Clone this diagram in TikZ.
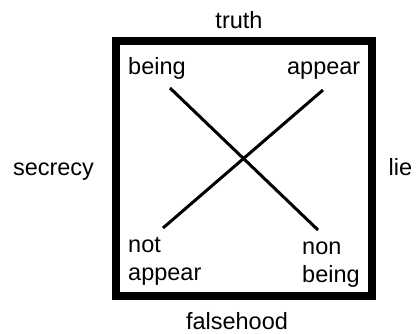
\documentclass[tikz,border=0pt]{standalone}
\usepackage{fontspec}
\setmainfont{Liberation Sans}
\usepackage{tikz}
\usetikzlibrary{positioning}
\definecolor{inkblack}{HTML}{000000}
\definecolor{pagebg}{HTML}{FFFFFF}
\tikzset{
  framebox/.style={
    draw=inkblack, line width=8pt, fill=pagebg,
    inner sep=0pt,
  },
  cornerlabel/.style={
    font=\fontsize{23.5}{28}\selectfont, text=inkblack,
    inner sep=0pt, align=left,
  },
  sidelabel/.style={
    font=\fontsize{23.5}{28}\selectfont, text=inkblack,
    inner sep=0pt,
  },
  crossline/.style={
    draw=inkblack, line width=3pt,
  },
}

\begin{document}
\begin{tikzpicture}[x=1pt,y=-1pt]

  \useasboundingbox[fill=pagebg] (0,0) rectangle (416,333);

  % ─── Square frame ─────────────────────────────────────────────────────
  \node[framebox, minimum width=256pt, minimum height=255pt]
    (frame) at (244,168.5) {};

  % ─── Outer labels ─────────────────────────────────────────────────────
  \node[sidelabel, anchor=base] (truth) at (239,28) {truth};
  \node[sidelabel, anchor=base] (falsehood) at (237,329.5) {falsehood};
  \node[sidelabel, anchor=base] (secrecy) at (53.5,175) {secrecy};
  \node[sidelabel, anchor=base] (lie) at (400.5,175) {lie};

  % ─── Corner labels ────────────────────────────────────────────────────
  \node[cornerlabel, anchor=base west] (being) at (128,74) {being};
  \node[cornerlabel, anchor=base east] (appear) at (360.5,74) {appear};
  % multi-line nodes: base sits on the last line
  \node[cornerlabel, anchor=base west] (notappear) at (128,280) {not\\appear};
  \node[cornerlabel, anchor=base west] (nonbeing) at (302,282) {non\\being};

  % ─── Crossing lines ───────────────────────────────────────────────────
  \coordinate (beingend) at (170,88);
  \coordinate (nonbeingend) at (318,230);
  \coordinate (appearend) at (323,90);
  \coordinate (notappearend) at (163,228);

  \draw[crossline] (beingend) -- (nonbeingend);
  \draw[crossline] (appearend) -- (notappearend);

\end{tikzpicture}
\end{document}
